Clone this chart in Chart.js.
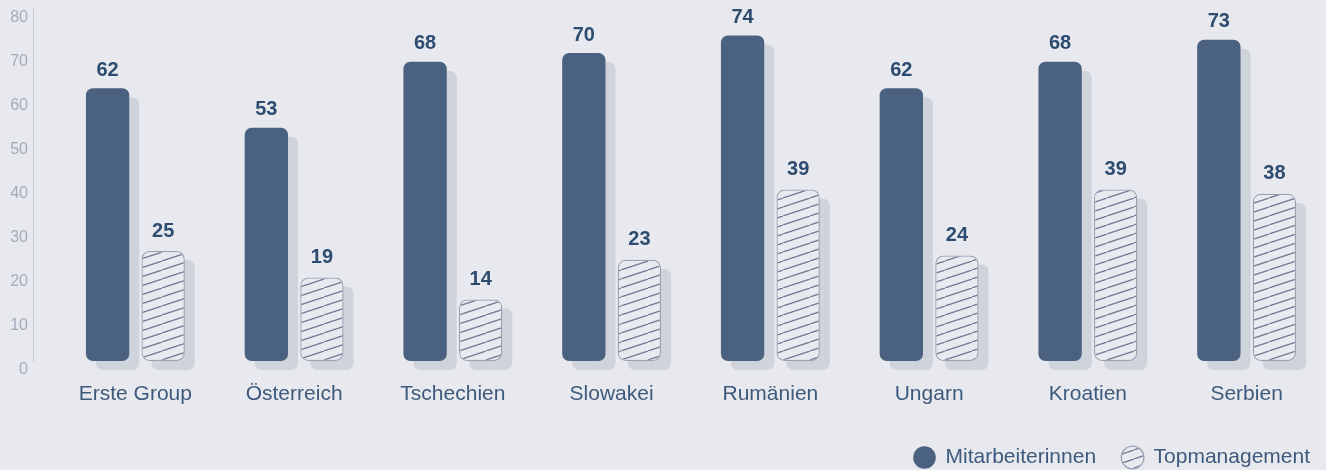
<!DOCTYPE html>
<html>
<head>
<meta charset="utf-8">
<script src="https://cdn.jsdelivr.net/npm/chart.js@4.4.1/dist/chart.umd.min.js"></script>
<style>
  html, body { margin: 0; padding: 0; background: #e8e9ee; overflow: hidden; }
  #wrap { width: 1326px; height: 470px; }
</style>
</head>
<body>
<div id="wrap"><canvas id="myChart"></canvas></div>
<script>
const countries = ['Erste Group', 'Österreich', 'Tschechien', 'Slowakei', 'Rumänien', 'Ungarn', 'Kroatien', 'Serbien'];
const mitarbeiterinnen = [62, 53, 68, 70, 74, 62, 68, 73];
const topmanagement = [25, 19, 14, 23, 39, 24, 39, 38];
const yTicks = [0, 10, 20, 30, 40, 50, 60, 70, 80];

window.addEventListener('load', function(){
  Chart.defaults.font.family = '"Liberation Sans", Arial, sans-serif';

  // hatch pattern for the second series
  let pc = document.createElement('canvas');
  pc.width = 27; pc.height = 9;
  let p = pc.getContext('2d');
  p.fillStyle = '#e9eaef';
  p.fillRect(0, 0, 27, 9);
  p.strokeStyle = '#6f7892';
  p.lineWidth = 1.2;
  p.beginPath();
  p.moveTo(-27, 9); p.lineTo(0, 0);
  p.moveTo(0, 9); p.lineTo(27, 0);
  p.moveTo(27, 9); p.lineTo(54, 0);
  p.stroke();
  let hatch = document.getElementById('myChart').getContext('2d').createPattern(pc, 'repeat');

  // grey shadow behind each bar
  let shadows = {
    id: 'shadows',
    beforeDatasetsDraw(chart){
      let c = chart.ctx;
      c.save();
      c.fillStyle = '#cfd3dc';
      chart.data.datasets.forEach(function(ds, i){
        chart.getDatasetMeta(i).data.forEach(function(bar){
          c.beginPath();
          c.roundRect(bar.x - bar.width / 2 + 10, bar.y + 9, bar.width, bar.base - bar.y, 7);
          c.fill();
        });
      });
      c.restore();
    }
  };

  // value labels above the bars
  let valueLabels = {
    id: 'valueLabels',
    afterDatasetsDraw(chart){
      let c = chart.ctx;
      c.save();
      c.font = 'bold 20px "Liberation Sans", Arial, sans-serif';
      c.fillStyle = '#2d4c70';
      c.textAlign = 'center';
      c.textBaseline = 'middle';
      chart.data.datasets.forEach(function(ds, i){
        chart.getDatasetMeta(i).data.forEach(function(bar, j){
          c.fillText(ds.data[j].y, bar.x, bar.y - (i == 0 ? 18 : 20));
        });
      });
      c.restore();
    }
  };

  // thin axis line on the left
  let axisLine = {
    id: 'axisLine',
    beforeDraw(chart){
      let c = chart.ctx;
      let a = chart.chartArea;
      c.save();
      c.strokeStyle = '#c4c8d3';
      c.lineWidth = 1;
      c.beginPath();
      c.moveTo(33.5, a.top);
      c.lineTo(33.5, a.bottom + 1);
      c.stroke();
      c.restore();
    }
  };

  let ctx = document.getElementById('myChart');
  let myChart = new Chart(ctx, {
    type: 'bar',
    data: {
      datasets: [{
        label: 'Mitarbeiterinnen',
        data: mitarbeiterinnen.map((v, i) => ({x: i, y: v})),
        backgroundColor: '#4a6180',
        borderColor: '#4a6180',
        borderWidth: 0,
        borderRadius: 7,
        borderSkipped: false,
        categoryPercentage: 0.7,
        barPercentage: 0.78
      }, {
        label: 'Topmanagement',
        data: topmanagement.map((v, i) => ({x: i, y: v})),
        backgroundColor: hatch,
        borderColor: '#9ba1b5',
        borderWidth: 1.3,
        borderRadius: 8,
        borderSkipped: false,
        categoryPercentage: 0.7,
        barPercentage: 0.78
      }]
    },
    options: {
      responsive: true,
      maintainAspectRatio: false,
      animation: false,
      layout: {
        padding: { top: 9, left: 0, right: -10, bottom: -8 }
      },
      plugins: {
        tooltip: { enabled: false },
        legend: {
          position: 'bottom',
          align: 'end',
          labels: {
            usePointStyle: true,
            pointStyle: 'circle',
            boxWidth: 21,
            boxHeight: 16,
            padding: 26,
            color: '#3d5a7c',
            font: { size: 21 }
          }
        }
      },
      scales: {
        x: {
          type: 'linear',
          offset: false,
          min: -0.5,
          max: 7.5,
          grid: { display: false, drawTicks: false },
          border: { display: false },
          afterBuildTicks: s => { s.ticks = countries.map((c, i) => ({ value: i })); },
          afterFit: s => { s.height = 60; s.paddingLeft = 0; s.paddingRight = 0; },
          ticks: {
            autoSkip: false,
            maxRotation: 0,
            padding: 21,
            color: '#3d5a7c',
            font: { size: 21 },
            callback: v => countries[v]
          }
        },
        y: {
          min: 0,
          max: 80,
          grid: { display: false, drawTicks: false },
          border: { display: false },
          afterBuildTicks: s => { s.ticks = yTicks.map(v => ({ value: v })); },
          afterFit: s => { s.width = 56; s.paddingTop = 0; s.paddingBottom = 0; },
          ticks: {
            padding: 28,
            labelOffset: 8.5,
            color: '#a4aabb',
            font: { size: 16, lineHeight: 1 }
          }
        }
      }
    },
    plugins: [axisLine, shadows, valueLabels]
  });
});
</script>
</body>
</html>
